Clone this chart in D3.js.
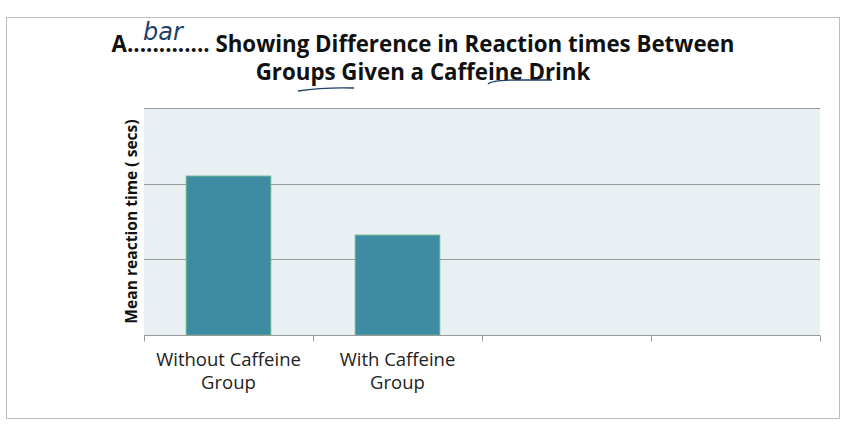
<!DOCTYPE html>
<html>
  <body style="margin:0;background:#fff">
    <script src="https://cdn.jsdelivr.net/npm/d3@7"></script>
    <script>
      const width = 846;
      const height = 440;

      // four category slots, only two have data
      const categories = ['Without Caffeine Group', 'With Caffeine Group', 'c3', 'c4'];
      const labelLines = [['Without Caffeine', 'Group'], ['With Caffeine', 'Group'], [], []];
      const values = [2.1, 1.32];
      const gridValues = [0, 1, 2, 3];

      const margin = { left: 144, right: 26, top: 108, bottom: 105 };

      const svg = d3.select('body')
        .append('svg')
        .attr('width', width)
        .attr('height', height)
        .style('font-family', '"Open Sans", sans-serif');

      // outer frame
      svg.append('rect')
        .attr('x', 6.5).attr('y', 17.5)
        .attr('width', 833).attr('height', 401)
        .attr('fill', '#fff')
        .attr('stroke', '#bdbdbd');

      const x = d3.scaleBand()
        .domain(categories)
        .range([margin.left, width - margin.right]);

      const y = d3.scaleLinear()
        .domain([0, 3])
        .range([height - margin.bottom, margin.top]);

      svg.append('rect')
        .attr('x', margin.left)
        .attr('y', y(3))
        .attr('width', x.range()[1] - margin.left)
        .attr('height', y(0) - y(3))
        .attr('fill', '#e8f0f3');

      svg.append('g')
        .selectAll('line')
        .data(gridValues.slice(1))
        .join('line')
        .attr('x1', margin.left)
        .attr('x2', width - margin.right)
        .attr('y1', d => Math.round(y(d)) + 0.5)
        .attr('y2', d => Math.round(y(d)) + 0.5)
        .attr('stroke', '#9a9a9a')
        .attr('stroke-width', 1.2);

      svg.append('g')
        .selectAll('rect')
        .data(values)
        .join('rect')
        .attr('x', (d, i) => x(categories[i]) + x.bandwidth() * 0.25)
        .attr('y', d => y(d))
        .attr('width', x.bandwidth() * 0.5)
        .attr('height', d => y(0) - y(d))
        .attr('fill', '#3d8ca3')
        .attr('stroke', '#5fae8c')
        .attr('stroke-width', 1);

      // x axis with ticks at band edges
      const axisY = Math.round(y(0)) + 0.5;
      const xAxis = svg.append('g');
      xAxis.append('line')
        .attr('x1', margin.left).attr('x2', width - margin.right)
        .attr('y1', axisY).attr('y2', axisY)
        .attr('stroke', '#9a9a9a').attr('stroke-width', 1.2);
      const edges = categories.map(c => x(c)).concat([x.range()[1]]);
      xAxis.selectAll('.tick')
        .data(edges)
        .join('line')
        .attr('x1', d => Math.round(d) + 0.5).attr('x2', d => Math.round(d) + 0.5)
        .attr('y1', axisY).attr('y2', axisY + 6)
        .attr('stroke', '#9a9a9a');

      xAxis.selectAll('text')
        .data(labelLines)
        .join('text')
        .attr('text-anchor', 'middle')
        .attr('font-size', 18.5)
        .attr('fill', '#222')
        .attr('transform', (d, i) => `translate(${x(categories[i]) + x.bandwidth() / 2},0)`)
        .selectAll('tspan')
        .data(d => d)
        .join('tspan')
        .attr('x', 0)
        .attr('y', (d, j) => 366 + j * 23)
        .text(d => d);

      // y axis title
      svg.append('text')
        .attr('transform', `translate(137, ${(y(0) + y(3)) / 2}) rotate(-90)`)
        .attr('text-anchor', 'middle')
        .attr('font-size', 15.6)
        .attr('font-weight', 'bold')
        .attr('fill', '#111')
        .text('Mean reaction time ( secs)');

      // title
      const title = svg.append('text')
        .attr('text-anchor', 'middle')
        .attr('font-size', 22.3)
        .attr('font-weight', 'bold')
        .attr('fill', '#111');
      title.append('tspan').attr('x', 423).attr('y', 52)
        .text('A............. Showing Difference in Reaction times Between');
      title.append('tspan').attr('x', 423).attr('y', 80)
        .text('Groups Given a Caffeine Drink');

      // handwritten annotation
      svg.append('text')
        .attr('x', 143).attr('y', 40)
        .attr('font-family', '"DejaVu Sans", sans-serif')
        .attr('font-size', 24)
        .attr('fill', '#1e3f66')
        .attr('font-style', 'italic')
        .text('bar');
      svg.append('path')
        .attr('d', 'M298,91 Q325,87 354,88')
        .attr('fill', 'none').attr('stroke', '#1e3f66').attr('stroke-width', 1.3);
      svg.append('path')
        .attr('d', 'M488,84 Q492,80 520,80 L552,80')
        .attr('fill', 'none').attr('stroke', '#1e3f66').attr('stroke-width', 1.3);
    </script>
  </body>
</html>
